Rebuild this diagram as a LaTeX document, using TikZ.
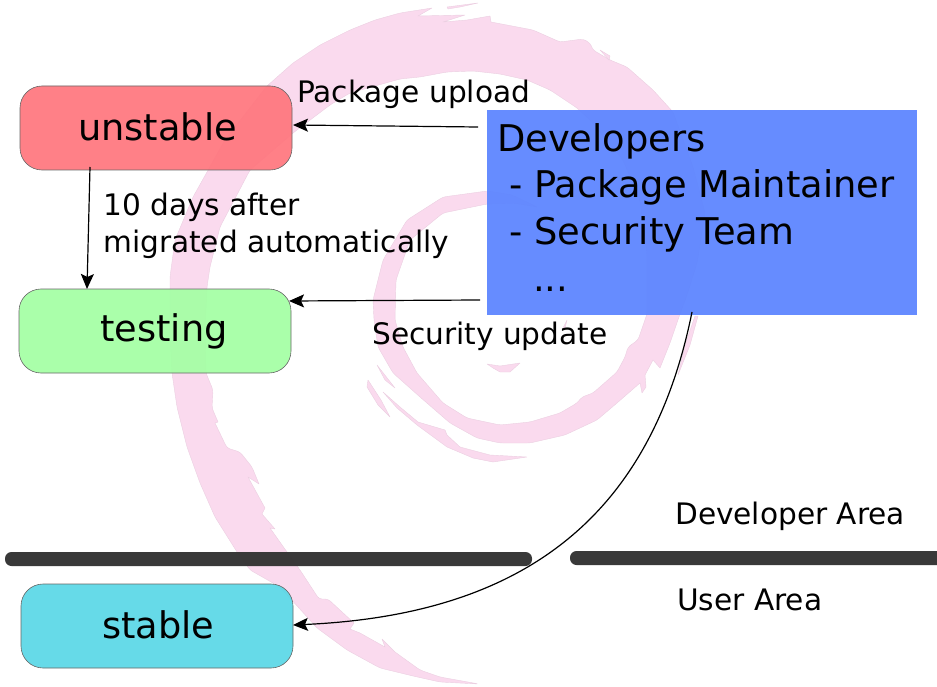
\documentclass[tikz,border=0pt]{standalone}
\usepackage{fontspec}
\setmainfont{DejaVu Sans}
\usetikzlibrary{arrows.meta}
\definecolor{swirl}{HTML}{FADAEE}
\definecolor{redbox}{HTML}{FF767E}
\definecolor{greenbox}{HTML}{A4FFA4}
\definecolor{cyanbox}{HTML}{5AD7E6}
\definecolor{bluebox}{HTML}{5E86FF}
\tikzset{
  swirlpart/.style={fill=swirl,draw=swirl!88!gray,line width=0.4pt,line join=round},
  state/.style={draw=black!60,line width=0.6pt,rounded corners=22pt,minimum width=272pt,minimum height=84pt,inner sep=0pt,fill opacity=0.93,text opacity=1,font=\fontsize{36.7}{44}\selectfont},
  lab/.style={anchor=base west,inner sep=0pt,font=\fontsize{29.6}{37}\selectfont},
  devline/.style={anchor=base west,inner sep=0pt,font=\fontsize{36.8}{44}\selectfont},
  bar/.style={fill=black!80,draw=none,rounded corners=6.5pt,fill opacity=0.97},
  conn/.style={draw=black,line width=1.2pt,-{Stealth[length=15pt,width=13pt,inset=3pt]}}
}
\begin{document}
\begin{tikzpicture}[x=1pt,y=-1pt]
\useasboundingbox (0,0) rectangle (937,687);
% swirl: outer edge from the tail tip, round to the centre, back along the inner edge
\path[swirlpart,rounded corners=3pt] (479,684) -- (440,682) -- (413,676) -- (380,668) -- (347,650) -- (317,628) -- (280,587) -- (250,570) -- (237,552) -- (215,517) -- (200,483) -- (187,447) -- (177,407) -- (172,373) -- (170,333) -- (170,277) -- (175,240) -- (193,197) -- (225,140) -- (267,86) -- (293,63) -- (320,45) -- (350,30) -- (375,20) -- (400,13) [sharp corners] -- (432,8) -- (418,16) -- (465,15) -- (443,22) -- (467,20) -- (490,16) -- (491,22) [rounded corners=3pt] -- (533,30) -- (560,42) -- (583,39) -- (590,43) -- (593,50) -- (610,60) -- (627,67) -- (653,90) -- (673,112) -- (693,167) -- (705,213) -- (697,263) -- (687,295) -- (680,314) -- (670,343) [sharp corners] -- (660,368) -- (653,360) -- (645,375) -- (646,387) -- (642,393) -- (640,383) [rounded corners=3pt] -- (617,403) -- (597,420) -- (565,435) -- (530,443) -- (500,443) -- (477,438) -- (450,423) -- (420,397) -- (393,373) -- (378,347) -- (374,320) -- (373,300) -- (383,260) -- (407,220) -- (443,197) -- (487,191) -- (512,195) [sharp corners] -- (537,207) [rounded corners=3pt] -- (513,203) -- (487,204) -- (443,213) -- (410,240) -- (396,280) -- (395,320) -- (403,347) -- (417,373) -- (443,403) -- (467,418) -- (500,425) -- (530,422) -- (560,413) -- (577,403) -- (582,397) -- (593,393) -- (617,372) -- (625,357) -- (628,347) -- (638,340) -- (647,314) -- (647,283) -- (647,253) -- (640,200) -- (623,160) -- (590,120) -- (577,108) -- (550,90) -- (527,80) -- (500,74) -- (473,71) -- (447,72) -- (420,77) -- (400,79) -- (350,93) -- (330,105) -- (293,133) -- (250,170) -- (220,227) -- (210,267) -- (207,287) -- (205,330) -- (206,373) -- (213,390) -- (212,408) [sharp corners] -- (218,422) -- (215,423) [rounded corners=3pt] -- (227,448) -- (240,452) -- (252,467) [sharp corners] -- (259,484) -- (248,477) -- (265,508) -- (262,514) -- (275,529) -- (270,528) [rounded corners=3pt] -- (287,552) -- (300,570) -- (319,599) -- (328,599) [sharp corners] -- (354,623) -- (350,629) -- (360,633) -- (385,647) -- (382,639) -- (395,652) [rounded corners=3pt] -- (420,670) -- (440,677) -- cycle;
\path[swirlpart] (447,7) -- (478,3) -- (460,7) -- (448,9) -- cycle;
\path[swirlpart] (600,50) -- (610,56) -- (609,60) -- cycle;
\path[swirlpart] (487,364) -- (500,366) -- (520,363) -- (510,372) -- (500,372) -- (493,368) -- cycle;
\path[swirlpart] (377,365) -- (395,388) -- (385,380) -- cycle;
\path[swirlpart] (368,380) -- (381,400) -- (390,417) -- (378,405) -- (367,387) -- cycle;
\path[swirlpart] (383,392) -- (400,407) -- (418,422) -- (445,430) -- (447,435) -- (460,447) -- (490,455) -- (527,457) -- (493,462) -- (473,458) -- (447,447) -- (417,425) -- (397,408) -- cycle;
\path[swirlpart] (695,316) -- (698,316) -- (690,345) -- (678,375) -- (685,345) -- cycle;
\path[swirlpart] (562,330) -- (567,320) -- (565,328) -- cycle;
% boxes
\node[state,fill=redbox] (unstable) at (156,128) {\hspace*{3pt}\raisebox{2pt}{unstable}};
\node[state,fill=greenbox] (testing) at (155,331) {\hspace*{18pt}\raisebox{-2pt}{testing}};
\node[state,fill=cyanbox] (stable) at (157,626) {\hspace*{3pt}\raisebox{2pt}{stable}};
\node[fill=bluebox,fill opacity=0.95,draw=none,minimum width=430pt,minimum height=204pt,inner sep=0pt] (dev) at (701.5,212.5) {};
\node[devline] (d1) at (497,152) {Developers};
\node[devline] (d2) at (509,198) {- Package Maintainer};
\node[devline] (d3) at (509,244) {- Security Team};
\node[devline] (d4) at (533,291) {...};
% bars
\fill[bar] (5,552) rectangle (532,566);
\fill[bar] (570,551) rectangle (945,565);
% labels
\node[lab] (l1) at (297,103) {Package upload};
\node[lab] (l2) at (103,215) {10 days after};
\node[lab] (l3) at (103,252) {migrated automatically};
\node[lab] (l4) at (372,344) {Security update};
\node[lab] (l5) at (675,524) {Developer Area};
\node[lab] (l6) at (677,610) {User Area};
% connectors
\coordinate (s1) at (478,127);
\coordinate (s2) at (480,300);
\coordinate (s3) at (90,167);
\coordinate (s4) at (692,312);
\coordinate (e1) at (293,125);
\coordinate (e2) at (289,301);
\coordinate (e3) at (87,289);
\coordinate (e4) at (293,625);
\draw[conn] (s1) -- (e1);
\draw[conn] (s2) -- (e2);
\draw[conn] (s3) -- (e3);
\draw[conn] (s4) .. controls (650,520) and (520,615) .. (e4);
\end{tikzpicture}
\end{document}
